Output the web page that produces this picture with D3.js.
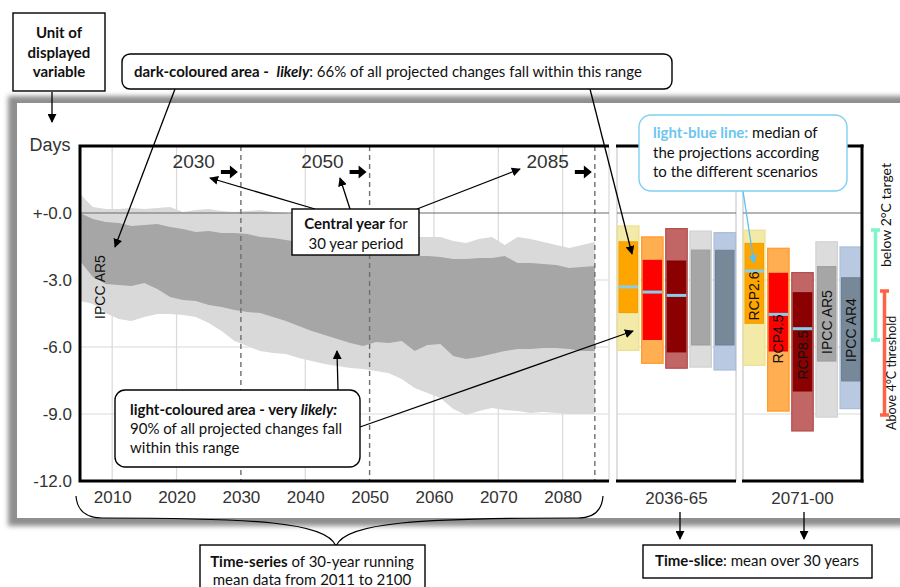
<!DOCTYPE html>
<html>
<head>
<meta charset="utf-8">
<script src="https://cdn.jsdelivr.net/npm/d3@7"></script>
<style>
  html, body { margin: 0; padding: 0; background: #fff; }
  svg { display: block; }
  .ann { font-family: Lato, "Open Sans", sans-serif; font-size: 15px; fill: #111; }
  .chart { font-family: "Liberation Sans", Arial, sans-serif; fill: #333; }
</style>
</head>
<body>
<svg id="c" width="900" height="587"></svg>
<script>
// ---------------- DATA ----------------
const years = [2005,2007,2009,2011,2013,2015,2017,2019,2021,2023,2025,2027,2029,2031,2033,2035,2037,2039,2041,2043,2045,2047,2049,2051,2053,2055,2057,2059,2061,2063,2065,2067,2069,2071,2073,2075,2077,2079,2081,2083,2085];
const veryLikelyUpper = [0.85,0.27,0.18,0.18,0.22,0.18,0.22,0.27,0.04,0.13,0.18,0.09,0.04,0.09,0.13,0.04,0.0,-0.13,-0.36,-0.54,-0.63,-0.76,-0.90,-0.94,-0.99,-1.07,-1.07,-1.07,-1.07,-1.25,-1.34,-1.16,-1.07,-1.43,-1.07,-1.16,-1.30,-1.43,-1.57,-1.43,-1.30];
const likelyUpper = [0.0,-0.27,-0.40,-0.45,-0.58,-0.54,-0.49,-0.63,-0.72,-0.85,-0.81,-0.90,-0.90,-0.94,-1.07,-1.12,-1.21,-1.30,-1.43,-1.52,-1.61,-1.70,-1.79,-1.84,-1.84,-1.88,-1.93,-1.93,-1.97,-2.06,-2.06,-2.02,-2.02,-1.93,-2.24,-2.24,-2.28,-2.33,-2.46,-2.42,-2.37];
const likelyLower = [-2.15,-2.87,-3.18,-3.22,-3.27,-3.13,-3.40,-3.76,-3.90,-3.94,-4.12,-4.21,-4.34,-4.43,-4.48,-4.66,-4.84,-5.06,-5.28,-5.46,-5.64,-5.82,-5.96,-5.78,-5.82,-5.73,-6.18,-5.91,-5.87,-6.40,-6.54,-6.45,-6.31,-6.18,-6.09,-6.09,-6.05,-6.05,-6.09,-6.18,-6.18];
const veryLikelyLower = [-3.94,-4.08,-4.48,-4.75,-4.84,-4.66,-4.52,-4.52,-4.57,-4.66,-4.93,-5.28,-5.73,-5.96,-6.18,-6.27,-6.31,-6.49,-6.63,-6.76,-6.85,-6.94,-6.99,-7.08,-7.17,-7.43,-7.84,-8.06,-8.28,-8.78,-9.05,-8.87,-8.73,-8.82,-8.87,-8.96,-8.91,-8.96,-9.00,-9.00,-9.00];

const yTicks = [0, -3, -6, -9, -12];
const xTicks = [2010, 2020, 2030, 2040, 2050, 2060, 2070, 2080];
const centralYears = [2030, 2050, 2085];

const scenarios = ["RCP2.6", "RCP4.5", "RCP8.5", "IPCC AR5", "IPCC AR4"];
const slicePeriods = ["2036-65", "2071-00"];
const slice1VeryLikelyHigh = [-0.58, -1.07, -0.70, -0.81, -0.88];
const slice1VeryLikelyLow  = [-6.15, -6.73, -6.95, -6.90, -7.03];
const slice1LikelyHigh     = [-1.29, -2.12, -2.15, -1.66, -1.67];
const slice1LikelyLow      = [-4.46, -5.66, -6.22, -5.91, -5.91];
const slice1Median         = [-3.31, -3.54, -3.69, null, null];
const slice2VeryLikelyHigh = [-0.77, -1.58, -2.67, -1.29, -1.52];
const slice2VeryLikelyLow  = [-6.82, -8.87, -9.76, -9.14, -8.76];
const slice2LikelyHigh     = [-1.36, -2.70, -3.57, -2.40, -2.90];
const slice2LikelyLow      = [-4.94, -6.18, -7.97, -6.63, -7.52];
const slice2Median         = [-2.60, -4.54, -5.18, null, null];

const lightFill   = ["#f3eaa8", "#ffae52", "#c26565", "#dcdcdc", "#b9c9e1"];
const lightStroke = ["#ebdf92", "#ff9b26", "#b24d4d", "#d2d2d2", "#aabdd9"];
const darkFill    = ["#ffa500", "#ff0000", "#8b0000", "#a6a6a6", "#778899"];
const darkStroke  = ["#f39d00", "#f00000", "#800000", "#9d9d9d", "#6f8091"];

// ---------------- SETUP ----------------
const svg = d3.select("#c");
const defs = svg.append("defs");
defs.append("filter").attr("id", "blur").attr("x", "-5%").attr("y", "-5%").attr("width", "110%").attr("height", "110%")
  .append("feGaussianBlur").attr("stdDeviation", 2.5);
function marker(id, color) {
  defs.append("marker").attr("id", id).attr("viewBox", "0 0 10 10").attr("refX", 9).attr("refY", 5)
    .attr("markerWidth", 9).attr("markerHeight", 9).attr("markerUnits", "userSpaceOnUse").attr("orient", "auto")
    .append("path").attr("d", "M0,0 L10,5 L0,10 z").attr("fill", color);
}
marker("ah", "#000");
marker("ahb", "#5cc1ee");

// card with shadow
svg.append("rect").attr("x", 8).attr("y", 96).attr("width", 920).attr("height", 430).attr("fill", "#8f8f8f").attr("filter", "url(#blur)");
svg.append("rect").attr("x", 17).attr("y", 103).attr("width", 900).attr("height", 415).attr("fill", "#fff");

const x = d3.scaleLinear().domain([2005, 2087.2]).range([80, 609]);
const y = d3.scaleLinear().domain([-12, 3]).range([481, 146]);
const panels = [
  { x0: 617, x1: 736 },
  { x0: 743, x1: 862 }
];
const sliceData = [
  { vh: slice1VeryLikelyHigh, vl: slice1VeryLikelyLow, lh: slice1LikelyHigh, ll: slice1LikelyLow, med: slice1Median },
  { vh: slice2VeryLikelyHigh, vl: slice2VeryLikelyLow, lh: slice2LikelyHigh, ll: slice2LikelyLow, med: slice2Median }
];

const g = svg.append("g");

// ---------- time-series panel grid ----------
g.selectAll(".vgrid").data(xTicks.filter(d => !centralYears.includes(d))).enter().append("line")
  .attr("x1", d => x(d)).attr("x2", d => x(d)).attr("y1", y(3)).attr("y2", y(-12))
  .attr("stroke", "#d9d9d9").attr("stroke-width", 1.2);
g.append("line").attr("x1", x(2087.2)).attr("x2", x(2087.2)).attr("y1", y(3)).attr("y2", y(-12)).attr("stroke", "#d9d9d9").attr("stroke-width", 1.2);
g.selectAll(".hgrid").data(yTicks.filter(d => d !== 0 && d !== -12)).enter().append("line")
  .attr("x1", x(2005)).attr("x2", x(2087.2)).attr("y1", d => y(d)).attr("y2", d => y(d))
  .attr("stroke", "#d9d9d9").attr("stroke-width", 1.2);

// bands
const idx = d3.range(years.length);
const areaVL = d3.area().x(i => x(years[i])).y0(i => y(veryLikelyLower[i])).y1(i => y(veryLikelyUpper[i]));
const areaL = d3.area().x(i => x(years[i])).y0(i => y(likelyLower[i])).y1(i => y(likelyUpper[i]));
g.append("path").attr("d", areaVL(idx)).attr("fill", "#d9d9d9");
g.append("path").attr("d", areaL(idx)).attr("fill", "#a6a6a6");

// zero line
g.append("line").attr("x1", x(2005)).attr("x2", x(2087.2)).attr("y1", y(0)).attr("y2", y(0)).attr("stroke", "#6b6b6b").attr("stroke-width", 1.2);
// dashed central year lines
g.selectAll(".cy").data(centralYears).enter().append("line")
  .attr("x1", d => x(d)).attr("x2", d => x(d)).attr("y1", y(3)).attr("y2", y(-12))
  .attr("stroke", "#6e6e6e").attr("stroke-width", 1.4).attr("stroke-dasharray", "5,4");

// ---------- slice panels ----------
panels.forEach((p, pi) => {
  const pg = svg.append("g");
  pg.selectAll(".e").data([p.x0, p.x1]).enter().append("line")
    .attr("x1", d => d).attr("x2", d => d).attr("y1", y(3)).attr("y2", y(-12)).attr("stroke", "#d4d4d4").attr("stroke-width", 1.5);
  pg.selectAll(".h").data(yTicks.filter(d => d !== -12)).enter().append("line")
    .attr("x1", p.x0).attr("x2", p.x1).attr("y1", d => y(d)).attr("y2", d => y(d))
    .attr("stroke", d => d === 0 ? "#6b6b6b" : "#d9d9d9").attr("stroke-width", 1.2);
  const xb = d3.scaleBand().domain(scenarios).range([p.x0, p.x1]).paddingInner(0.11).paddingOuter(0.02);
  const sd = sliceData[pi];
  scenarios.forEach((s, i) => {
    pg.append("rect").attr("x", xb(s)).attr("width", xb.bandwidth())
      .attr("y", y(sd.vh[i])).attr("height", y(sd.vl[i]) - y(sd.vh[i]))
      .attr("fill", lightFill[i]).attr("stroke", lightStroke[i]).attr("stroke-width", 1.2);
    pg.append("rect").attr("x", xb(s) + 1.5).attr("width", xb.bandwidth() - 3)
      .attr("y", y(sd.lh[i])).attr("height", y(sd.ll[i]) - y(sd.lh[i]))
      .attr("fill", darkFill[i]).attr("stroke", darkStroke[i]).attr("stroke-width", 1);
    if (sd.med[i] !== null) {
      pg.append("line").attr("x1", xb(s) + 1).attr("x2", xb(s) + xb.bandwidth() - 1)
        .attr("y1", y(sd.med[i])).attr("y2", y(sd.med[i])).attr("stroke", "#87ceeb").attr("stroke-width", 3);
    }
    if (pi === 1) {
      const cy = [296, 339, 355, 322, 330][i];
      pg.append("text").attr("class", "chart")
        .attr("transform", `translate(${xb(s) + xb.bandwidth() / 2 + 5},${cy}) rotate(-90)`)
        .attr("text-anchor", "middle").style("font-size", "14px").style("fill", "#111").text(s);
    }
  });
  // borders top/bottom
  pg.selectAll(".tb").data([3, -12]).enter().append("line")
    .attr("x1", p.x0 - 1).attr("x2", p.x1 + (pi === 1 ? 1.5 : 0)).attr("y1", d => y(d)).attr("y2", d => y(d))
    .attr("stroke", "#000").attr("stroke-width", 3);
  // period label
  svg.append("text").attr("class", "chart").attr("x", (p.x0 + p.x1) / 2).attr("y", 504)
    .attr("text-anchor", "middle").style("font-size", "17px").text(slicePeriods[pi]);
});
// right border
svg.append("line").attr("x1", 862).attr("x2", 862).attr("y1", y(3) - 1.5).attr("y2", y(-12) + 1.5).attr("stroke", "#000").attr("stroke-width", 3);

// time-series border (left, top, bottom)
svg.append("path").attr("d", `M${x(2087.2)},${y(3)} H${x(2005)} V${y(-12)} H${x(2087.2)}`)
  .attr("fill", "none").attr("stroke", "#000").attr("stroke-width", 3);

// axes
const ay = svg.append("g").attr("transform", `translate(${x(2005) - 8},0)`)
  .call(d3.axisLeft(y).tickValues(yTicks).tickSize(0).tickPadding(0).tickFormat(d => d === 0 ? "+-0.0" : d.toFixed(1)));
ay.select(".domain").remove();
ay.selectAll("text").attr("class", "chart").style("font-size", "17px").style("font-family", "'Liberation Sans', Arial, sans-serif").attr("fill", "#333");
const ax = svg.append("g").attr("transform", `translate(0,${y(-12) + 10})`)
  .call(d3.axisBottom(x).tickValues(xTicks).tickSize(0).tickPadding(0).tickFormat(d3.format("d")));
ax.select(".domain").remove();
ax.selectAll("text").style("font-size", "17px").style("font-family", "'Liberation Sans', Arial, sans-serif").attr("fill", "#333");

svg.append("text").attr("class", "chart").attr("x", 50).attr("y", 151).attr("text-anchor", "middle").style("font-size", "18px").text("Days");
svg.append("text").attr("class", "chart").attr("transform", "translate(105,287) rotate(-90)")
  .attr("text-anchor", "middle").style("font-size", "14px").style("fill", "#111").text("IPCC AR5");

// central year labels and block arrows
centralYears.forEach(cyr => {
  svg.append("text").attr("class", "chart").attr("x", x(cyr) - 26).attr("y", 168)
    .attr("text-anchor", "end").style("font-size", "19px").text(cyr);
  const bx = x(cyr) - 20;
  svg.append("path").attr("d", `M${bx},170 h9 v-4.5 l8,6.5 l-8,6.5 v-4.5 h-9 z`).attr("fill", "#000");
});

// ---------------- ANNOTATIONS ----------------
function arrow(x1, y1, x2, y2, color, mk) {
  svg.append("line").attr("x1", x1).attr("y1", y1).attr("x2", x2).attr("y2", y2)
    .attr("stroke", color || "#000").attr("stroke-width", 1.3).attr("marker-end", `url(#${mk || "ah"})`);
}
function box(x0, y0, w, h, r, stroke) {
  svg.append("rect").attr("x", x0).attr("y", y0).attr("width", w).attr("height", h).attr("rx", r).attr("ry", r)
    .attr("fill", "#fff").attr("stroke", stroke || "#000").attr("stroke-width", 1.4);
}

// Unit of displayed variable
box(13, 13, 92, 78, 0);
["Unit of", "displayed", "variable"].forEach((t, i) => {
  svg.append("text").attr("class", "ann").attr("x", 59).attr("y", 38 + i * 19.5).attr("text-anchor", "middle")
    .style("font-weight", "bold").text(t);
});
arrow(52, 92, 52, 122);

// dark-coloured area
arrow(175, 89, 115, 247);
arrow(590, 89, 632, 254);
box(122, 54, 550, 35, 8);
{
  const t = svg.append("text").attr("class", "ann").attr("x", 134).attr("y", 77);
  t.append("tspan").style("font-weight", "bold").text("dark-coloured area - ");
  t.append("tspan").style("font-weight", "bold").style("font-style", "italic").attr("dx", 4).text("likely");
  t.append("tspan").text(": 66% of all projected changes fall within this range");
}

// Central year box
arrow(315, 209, 210, 178);
arrow(350, 209, 340, 178);
arrow(417, 209, 520, 169);
box(292, 209, 127, 46, 0);
{
  const t = svg.append("text").attr("class", "ann").attr("x", 356).attr("y", 229).attr("text-anchor", "middle");
  t.append("tspan").style("font-weight", "bold").text("Central year");
  t.append("tspan").text(" for");
  svg.append("text").attr("class", "ann").attr("x", 356).attr("y", 249).attr("text-anchor", "middle").text("30 year period");
}

// light-coloured area box
arrow(338, 390, 337, 351);
arrow(360, 427, 633, 331);
box(115, 390, 245, 77, 10);
{
  const t = svg.append("text").attr("class", "ann").attr("x", 130).attr("y", 415);
  t.append("tspan").style("font-weight", "bold").text("light-coloured area - very ");
  t.append("tspan").style("font-weight", "bold").style("font-style", "italic").text("likely:");
  svg.append("text").attr("class", "ann").attr("x", 130).attr("y", 434).text("90% of all projected changes fall");
  svg.append("text").attr("class", "ann").attr("x", 130).attr("y", 453).text("within this range");
}

// light-blue line box
arrow(743, 191, 754, 263, "#5cc1ee", "ahb");
box(639, 115, 208, 76, 12, "#7fd0f2");
{
  const t = svg.append("text").attr("class", "ann").attr("x", 653).attr("y", 138);
  t.append("tspan").style("font-weight", "bold").style("fill", "#6cc6f0").text("light-blue line:");
  t.append("tspan").text(" median of");
  svg.append("text").attr("class", "ann").attr("x", 653).attr("y", 158).text("the projections according");
  svg.append("text").attr("class", "ann").attr("x", 653).attr("y", 177).text("to the different scenarios");
}

// right-side brackets
function bracket(xc, y1, y2, color) {
  svg.append("path").attr("d", `M${xc - 4.5},${y1} H${xc + 4.5} M${xc},${y1} V${y2} M${xc - 4.5},${y2} H${xc + 4.5}`)
    .attr("stroke", color).attr("stroke-width", 3.5).attr("fill", "none");
}
bracket(875.5, 230, 340, "#7df5c8");
bracket(884.5, 291, 415, "#ff6347");
svg.append("text").attr("class", "ann").style("font-size", "14px").attr("transform", "translate(891,267) rotate(-90)").text("below 2°C target");
svg.append("text").attr("class", "ann").style("font-size", "12.5px").attr("transform", "translate(896,430) rotate(-90)").text("Above 4°C threshold");

// brace
svg.append("path")
  .attr("d", "M76,496 C77,510 86,518 102,518 C255,518 326,522 336,546 C346,522 420,518 578,518 C594,518 602,510 603,496")
  .attr("fill", "none").attr("stroke", "#000").attr("stroke-width", 1.2);

// time-series box
box(200, 545, 225, 60, 0);
{
  const t = svg.append("text").attr("class", "ann").attr("x", 312).attr("y", 567).attr("text-anchor", "middle");
  t.append("tspan").style("font-weight", "bold").text("Time-series");
  t.append("tspan").text(" of 30-year running");
  svg.append("text").attr("class", "ann").attr("x", 312).attr("y", 585).attr("text-anchor", "middle").text("mean data from 2011 to 2100");
}

// time-slice arrows and box
arrow(680, 512, 680, 539);
arrow(804, 512, 804, 539);
box(643, 545, 229, 33, 0);
{
  const t = svg.append("text").attr("class", "ann").attr("x", 757).attr("y", 566).attr("text-anchor", "middle");
  t.append("tspan").style("font-weight", "bold").text("Time-slice");
  t.append("tspan").text(": mean over 30 years");
}
</script>
</body>
</html>
